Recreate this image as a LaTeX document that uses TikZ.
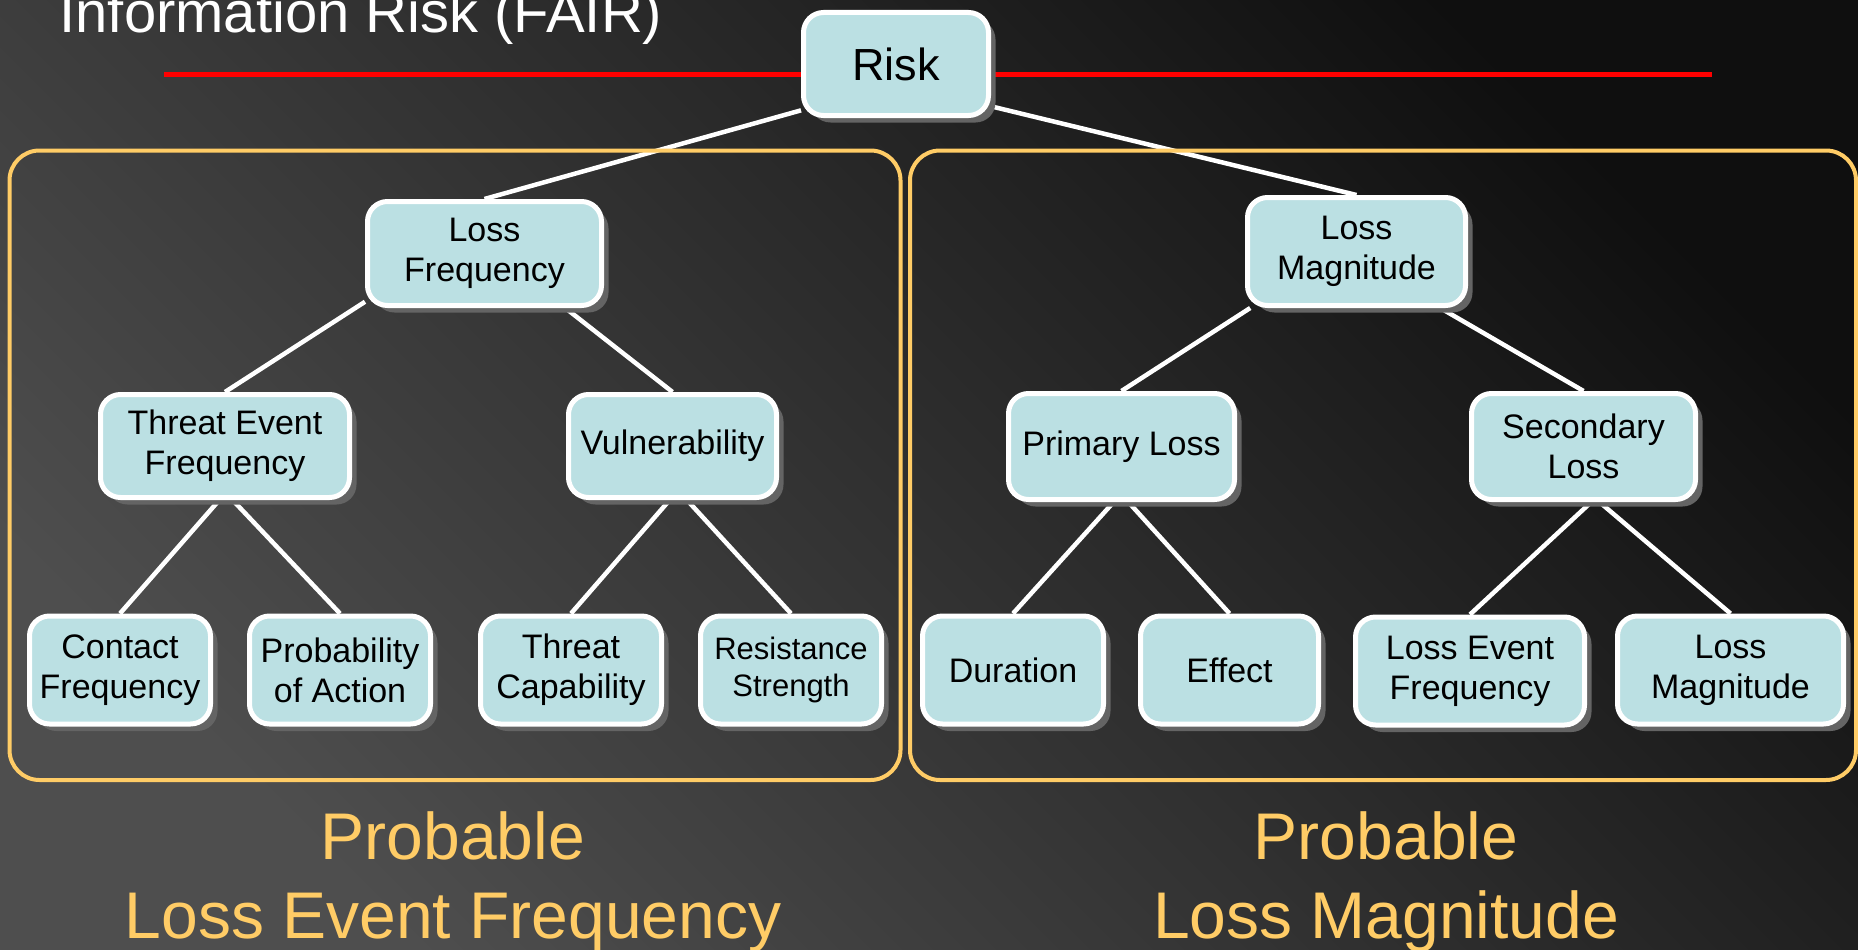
\documentclass[tikz,border=0pt]{standalone}
\usepackage{fontspec}
\setmainfont{Liberation Sans}
\usetikzlibrary{shapes,shadows}
\definecolor{boxfill}{RGB}{187,224,227}
\definecolor{frameorange}{RGB}{255,204,102}
\definecolor{shadowgray}{RGB}{100,100,100}
\definecolor{bgdark}{RGB}{15,15,15}
\definecolor{bglight}{RGB}{78,78,78}
\pgfdeclarelayer{background}
\pgfdeclarelayer{edges}
\pgfsetlayers{background,edges,main}

\begin{document}
\begin{tikzpicture}[x=1pt,y=-1pt]
			\tikzset{fairbox/.style={draw=white,line width=5pt,fill=boxfill,rounded corners=20pt,align=center,text=black,inner sep=0pt,font=\fontsize{34}{40}\selectfont,drop shadow={shadow xshift=7pt,shadow yshift=-7pt,fill=shadowgray,opacity=1}}}
			\tikzset{leaf/.style={fairbox,minimum width=181pt,minimum height=108pt}}
			\tikzset{link/.style={draw=white,line width=4.5pt}}
			\tikzset{group/.style={draw=frameorange,line width=4pt,rounded corners=30pt}}
			\tikzset{caption/.style={text=frameorange,align=center,font=\fontsize{66}{79}\selectfont}}
			\useasboundingbox (0,0) rectangle (1858,950);
			\begin{pgfonlayer}{background}
			\shade[top color=bgdark,bottom color=bglight,shading angle=-45] (0,0) rectangle (1858,950);
			\end{pgfonlayer}
			\node[anchor=base west,text=white,font=\fontsize{58}{70}\selectfont] (title) at (56,33) {Information Risk (FAIR)};
			% tree
			\node[fairbox,minimum width=185pt,minimum height=103pt,font=\fontsize{45}{54}\selectfont] (risk) at (896,64) {Risk};
			\node[fairbox,minimum width=234pt,minimum height=104pt] (lf) at (484.5,253.5) {Loss\\Frequency};
			\node[fairbox,minimum width=218pt,minimum height=108pt] (lm) at (1356.5,251.5) {Loss\\Magnitude};
			\node[fairbox,minimum width=249pt,minimum height=103pt] (tef) at (225,446) {Threat Event\\Frequency};
			\node[fairbox,minimum width=208pt,minimum height=103pt] (vuln) at (672.5,446) {Vulnerability};
			\node[fairbox,minimum width=226pt,minimum height=106pt] (primary) at (1121.5,446.5) {Primary Loss};
			\node[fairbox,minimum width=224pt,minimum height=106pt] (secondary) at (1583.5,446.5) {Secondary\\Loss};
			\node[leaf] (contact) at (120,670) {Contact\\Frequency};
			\node[leaf] (prob) at (340,670) {Probability\\of Action};
			\node[leaf] (tcap) at (571,670) {Threat\\Capability};
			\node[leaf,font=\fontsize{31}{37}\selectfont] (resist) at (791,670) {Resistance\\Strength};
			\node[leaf] (duration) at (1013,670) {Duration};
			\node[leaf,minimum width=178pt] (effect) at (1229.5,670) {Effect};
			\node[leaf,minimum width=229pt] (lef) at (1470,671) {Loss Event\\Frequency};
			\node[leaf,minimum width=226pt] (lmag) at (1730.5,670) {Loss\\Magnitude};
			\begin{pgfonlayer}{edges}
			\draw[red,line width=5pt] (164,75) -- (1712,75);
			\foreach \a/\b in {risk.-154/lf,risk.-24/lm,lf.-158/tef,lf.-34/vuln,tef.-96/contact,tef.-82/prob,vuln.-93/tcap,vuln.-75/resist,lm.-152/primary,lm.-34/secondary,primary.-98/duration,primary.-83/effect,secondary.-82/lef,secondary.-74/lmag}
				\draw[link] (\a) -- (\b.north);
			\end{pgfonlayer}
			% groups
			\draw[group] (9.5,150.5) rectangle (900.5,780);
			\draw[group] (910,150.5) rectangle (1856,780);
			\node[caption] (lefcap) at (453,881.5) {Probable\\Loss Event Frequency};
			\node[caption] (lmcap) at (1386,881.5) {Probable\\Loss Magnitude};
\end{tikzpicture}
\end{document}
